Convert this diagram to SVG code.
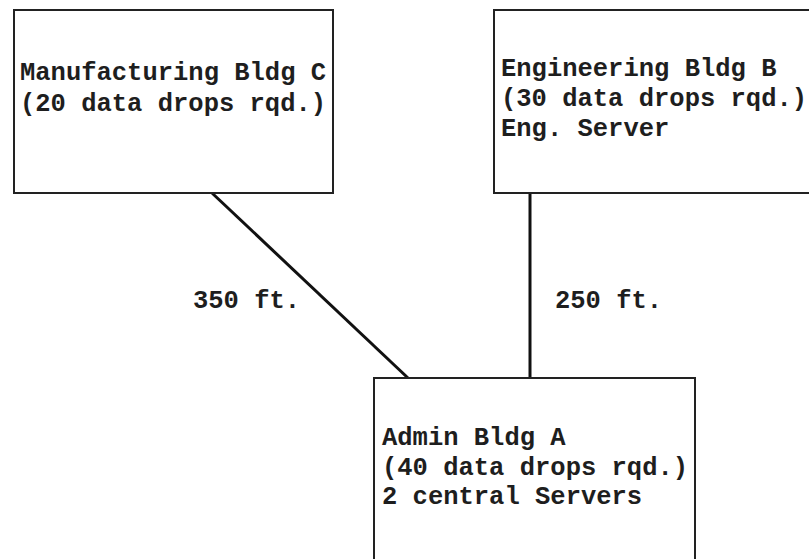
<svg xmlns="http://www.w3.org/2000/svg" width="809" height="559" viewBox="0 0 809 559">
  <style>
    .box { fill: #ffffff; stroke: #222222; stroke-width: 2; }
    .name { font-family: "Liberation Mono", "Courier New", monospace; font-weight: bold; font-size: 25.5px; fill: #1e1e1e; }
    .link { stroke: #111111; stroke-width: 3; fill: none; }
  </style>
  <rect width="809" height="559" fill="#ffffff"/>
  <g id="connectors">
    <line class="link" x1="212" y1="193" x2="408" y2="378"/>
    <line class="link" x1="530" y1="193" x2="530" y2="378"/>
    <text class="name" x="193" y="308">350 ft.</text>
    <text class="name" x="555" y="308">250 ft.</text>
  </g>
  <g id="bldg-c">
    <rect class="box" x="14" y="10" width="319" height="183"/>
    <text class="name" x="20" y="80">Manufacturing Bldg C</text>
    <text class="name" x="20" y="111">(20 data drops rqd.)</text>
  </g>
  <g id="bldg-b">
    <rect class="box" x="494" y="10" width="330" height="183"/>
    <text class="name" x="501" y="76">Engineering Bldg B</text>
    <text class="name" x="501" y="106">(30 data drops rqd.)</text>
    <text class="name" x="501" y="136">Eng. Server</text>
  </g>
  <g id="bldg-a">
    <rect class="box" x="374" y="378" width="321" height="200"/>
    <text class="name" x="382" y="445">Admin Bldg A</text>
    <text class="name" x="382" y="475">(40 data drops rqd.)</text>
    <text class="name" x="382" y="504">2 central Servers</text>
  </g>
</svg>
